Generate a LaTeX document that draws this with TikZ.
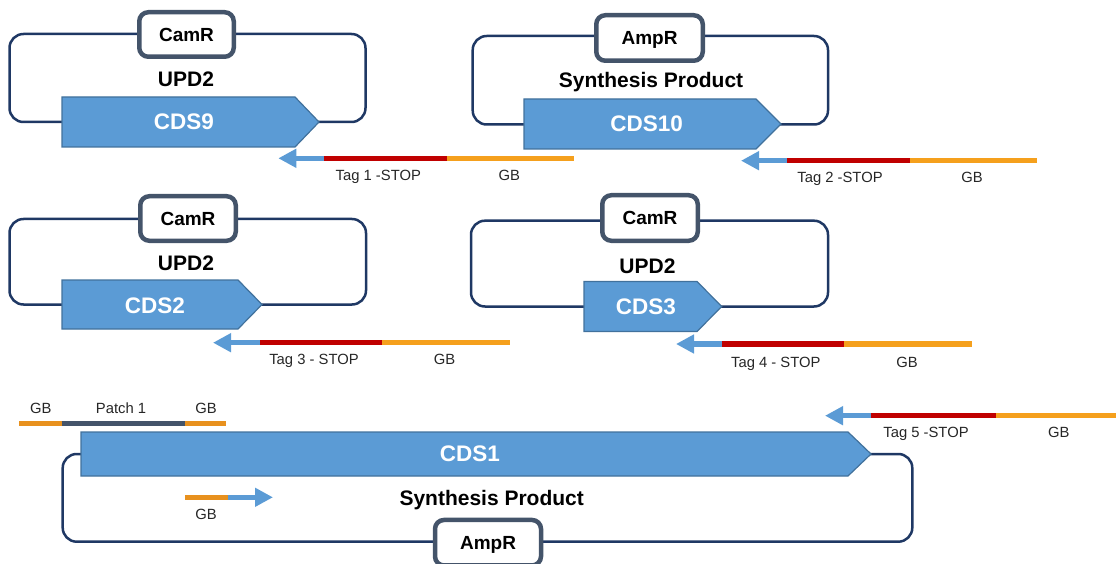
\documentclass[tikz,border=0pt]{standalone}
\usepackage{fontspec}
\setmainfont{Liberation Sans}
\usetikzlibrary{arrows.meta}

\definecolor{loopc}{HTML}{1F3864}
\definecolor{markc}{HTML}{44546A}
\definecolor{cdsfill}{HTML}{5B9BD5}
\definecolor{cdsedge}{HTML}{41719C}
\definecolor{tagred}{HTML}{C00000}
\definecolor{gborange}{HTML}{F5A01D}
\definecolor{gbdark}{HTML}{E8911E}
\definecolor{labelc}{HTML}{262626}

\tikzset{
  backbone/.style={draw=loopc, line width=2.5pt, rounded corners=14pt},
  marker/.style={draw=markc, fill=white, line width=4.5pt, rounded corners=9pt,
    inner sep=0pt, font=\fontsize{19}{22}\selectfont\bfseries,
    text height=13.6pt, text depth=0pt},
  cds/.style={fill=cdsfill, draw=cdsedge, line width=1.2pt},
  cdslabel/.style={text=white, font=\fontsize{22.5}{26}\selectfont\bfseries,
    text height=16.1pt, text depth=0pt, inner sep=0pt},
  plasmid/.style={font=\fontsize{21}{25}\selectfont\bfseries,
    text height=15pt, text depth=0pt, inner sep=0pt},
  part/.style={text=labelc, font=\fontsize{14.8}{18}\selectfont,
    text height=10.6pt, text depth=0pt, inner sep=0pt},
  seg/.style={line width=5.5pt},
  head/.style={-{Triangle[length=18pt,width=18pt]}},
}

% primer track: #1 name, #2 y, #3 tip x, #4 blue/red joint, #5 red/orange joint, #6 end
\newcommand\tagtrack[6]{%
  \coordinate (#1tip) at (#3,#2);
  \coordinate (#1b) at (#4,#2);
  \coordinate (#1r) at (#5,#2);
  \coordinate (#1e) at (#6,#2);
  \draw[seg, draw=cdsfill, head] (#1b) -- (#1tip);
  \draw[seg, draw=tagred] (#1b) -- (#1r);
  \draw[seg, draw=gborange] (#1r) -- (#1e);
}

\begin{document}
\begin{tikzpicture}[x=1pt, y=-1pt]
\useasboundingbox (0,0) rectangle (1116,564);

% ---------- backbones ----------
\draw[backbone] (9.5,34) rectangle (365.5,122);
\draw[backbone] (472.7,36) rectangle (828,124.5);
\draw[backbone] (9.5,219) rectangle (366,304.5);
\draw[backbone] (471,220.7) rectangle (828,306.5);
\draw[backbone] (62.7,454) rectangle (912.3,541.7);

% ---------- coding sequences ----------
\draw[cds] (62,97) -- (295,97) -- (319,122) -- (295,147) -- (62,147) -- cycle;
\draw[cds] (524,99) -- (756,99) -- (781,124) -- (756,149) -- (524,149) -- cycle;
\draw[cds] (62,280) -- (238,280) -- (262,304.5) -- (238,329) -- (62,329) -- cycle;
\draw[cds] (584,281.5) -- (697,281.5) -- (721.7,306.5) -- (697,331.5) -- (584,331.5) -- cycle;
\draw[cds] (81,432) -- (848,432) -- (871,454) -- (848,476) -- (81,476) -- cycle;

\node[cdslabel] (cds9) at (184,121.5) {CDS9};
\node[cdslabel] (cds10) at (646.7,123.5) {CDS10};
\node[cdslabel] (cds2) at (155,305) {CDS2};
\node[cdslabel] (cds3) at (646,306.7) {CDS3};
\node[cdslabel] (cds1) at (470,453.5) {CDS1};

% ---------- resistance markers ----------
\node[marker, minimum width=94.5pt, minimum height=44.5pt] (mk1) at (186.5,34.5) {CamR};
\node[marker, minimum width=106.5pt, minimum height=45.5pt] (mk2) at (649.5,38) {AmpR};
\node[marker, minimum width=95.5pt, minimum height=44.5pt] (mk3) at (188,218.5) {CamR};
\node[marker, minimum width=95.5pt, minimum height=45.5pt] (mk4) at (650,218) {CamR};
\node[marker, minimum width=106pt, minimum height=45.5pt] (mk5) at (488,542.7) {AmpR};

% ---------- plasmid names ----------
\node[plasmid] (p1) at (186,79) {UPD2};
\node[plasmid] (p2) at (651,80) {Synthesis Product};
\node[plasmid] (p3) at (186,263) {UPD2};
\node[plasmid] (p4) at (647.5,266) {UPD2};
\node[plasmid] (p5) at (491.7,498) {Synthesis Product};

% ---------- primer tracks ----------
\tagtrack{t1}{158.3}{278.3}{324.3}{447.3}{574.3}
\tagtrack{t2}{160.7}{741}{787.3}{910}{1036.7}
\tagtrack{t3}{342.7}{213}{260}{382}{510}
\tagtrack{t4}{344}{676}{722}{844}{971.7}
\tagtrack{t5}{415.7}{825}{871}{996}{1120}

\node[part] (t1l) at (378.3,175.3) {Tag 1 -STOP};
\node[part] (t1g) at (509.3,175.3) {GB};
\node[part] (t2l) at (840,177.3) {Tag 2 -STOP};
\node[part] (t2g) at (972,177.3) {GB};
\node[part] (t3l) at (314,359) {Tag 3 - STOP};
\node[part] (t3g) at (444.5,359) {GB};
\node[part] (t4l) at (775.8,361.7) {Tag 4 - STOP};
\node[part] (t4g) at (907,361.7) {GB};
\node[part] (t5l) at (926,432.3) {Tag 5 -STOP};
\node[part] (t5g) at (1058.7,432.3) {GB};

% ---------- patch fragment ----------
\coordinate (pa) at (19,423.3);
\coordinate (pb) at (61.7,423.3);
\coordinate (pc) at (185,423.3);
\coordinate (pd) at (226,423.3);
\draw[seg, draw=gbdark] (pa) -- (pb);
\draw[seg, draw=markc] (pb) -- (pc);
\draw[seg, draw=gbdark] (pc) -- (pd);
\node[part] (pg1) at (40.7,408) {GB};
\node[part] (pp) at (121,408) {Patch 1};
\node[part] (pg2) at (206,408) {GB};

% ---------- forward GB primer ----------
\coordinate (fa) at (185,497.3);
\coordinate (fb) at (227.7,497.3);
\coordinate (ftip) at (273,497.3);
\draw[seg, draw=gbdark] (fa) -- (fb);
\draw[seg, draw=cdsfill, head] (fb) -- (ftip);
\node[part] (fg) at (206,514) {GB};
\end{tikzpicture}
\end{document}
